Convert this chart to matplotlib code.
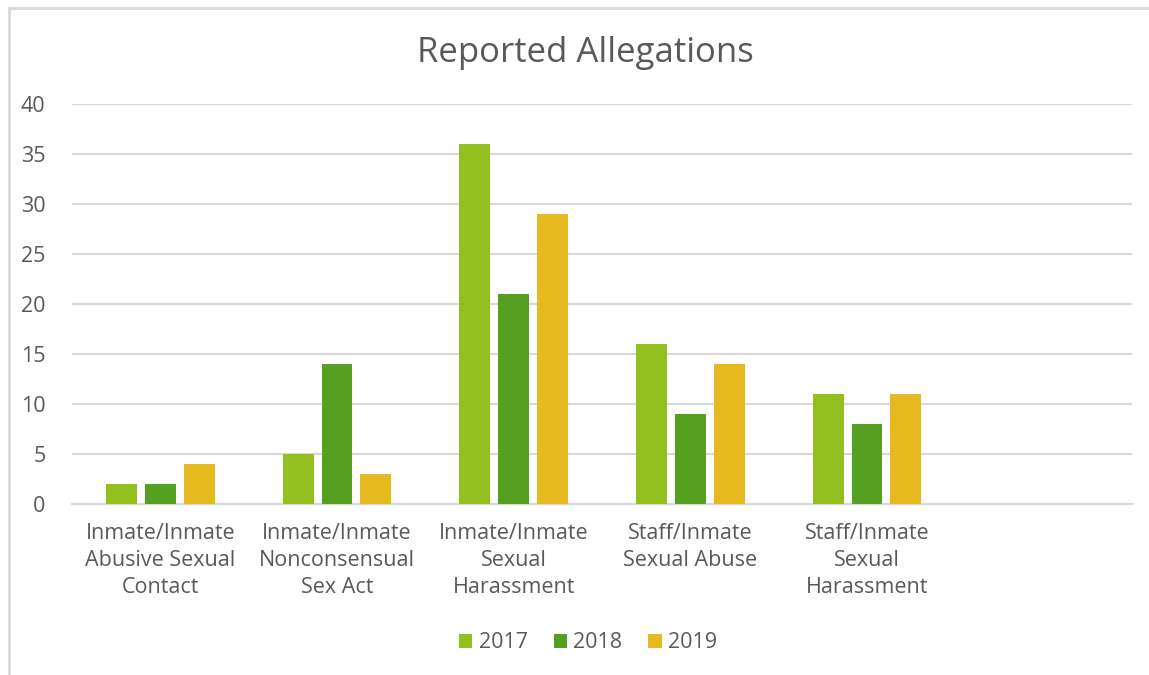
import matplotlib
matplotlib.use("Agg")
import matplotlib.pyplot as plt
import numpy as np
from matplotlib.lines import Line2D

categories = ["Inmate/Inmate\nAbusive Sexual\nContact",
              "Inmate/Inmate\nNonconsensual\nSex Act",
              "Inmate/Inmate\nSexual\nHarassment",
              "Staff/Inmate\nSexual Abuse",
              "Staff/Inmate\nSexual\nHarassment",
              ""]
years = ["2017", "2018", "2019"]
v2017 = [2, 5, 36, 16, 11]
v2018 = [2, 14, 21, 9, 8]
v2019 = [4, 3, 29, 14, 11]
colors = ["#93C01F", "#55A021", "#E6B91E"]
yticks = [0, 5, 10, 15, 20, 25, 30, 35, 40]

plt.rcParams['font.family'] = ['Open Sans', 'DejaVu Sans']
txt = "#595959"
grid = "#D9D9D9"

fig = plt.figure(figsize=(11.49, 6.75), dpi=100)
ax = fig.add_axes([72/1149, 1-504/675, (1132-72)/1149, 400/675])

x = np.arange(len(categories))
w = 0.175
off = 0.22
for i, (vals, c, lab) in enumerate(zip([v2017, v2018, v2019], colors, years)):
    ax.bar(np.arange(len(vals)) + (i-1)*off, vals, width=w, color=c, label=lab, zorder=3)

ax.set_xlim(-0.5, len(categories)-0.5)
ax.set_ylim(0, 40)
ax.set_yticks(yticks)
ax.set_xticks(x)
ax.set_xticklabels(categories, fontsize=15.5, color=txt, linespacing=1.35)
ax.tick_params(axis='y', labelsize=15.5, labelcolor=txt, length=0, pad=19)
ax.tick_params(axis='x', length=0, pad=14)
ax.grid(axis='y', color=grid, linewidth=1.5, zorder=0)
for s in ['top', 'right', 'left']:
    ax.spines[s].set_visible(False)
ax.spines['bottom'].set_color(grid)
ax.spines['bottom'].set_linewidth(1.5)

fig.text(585/1149, 1-53/675, "Reported Allegations", ha='center', va='center',
         fontsize=25, color=txt)

leg = fig.legend(loc='center', bbox_to_anchor=(588/1149, 1-643/675), ncol=3,
                 frameon=False, fontsize=15.5, handlelength=0.62, handleheight=0.62,
                 handletextpad=0.3, columnspacing=1.2)
for t in leg.get_texts():
    t.set_color(txt)

# outer chart border (extends beyond canvas on right and bottom)
fig.add_artist(Line2D([9/1149, 1.01], [1-8/675, 1-8/675], color="#D9D9D9", lw=2, transform=fig.transFigure))
fig.add_artist(Line2D([9/1149, 9/1149], [1-8/675, -0.01], color="#D9D9D9", lw=2, transform=fig.transFigure))

fig.savefig("out.png", dpi=100, facecolor="white")
